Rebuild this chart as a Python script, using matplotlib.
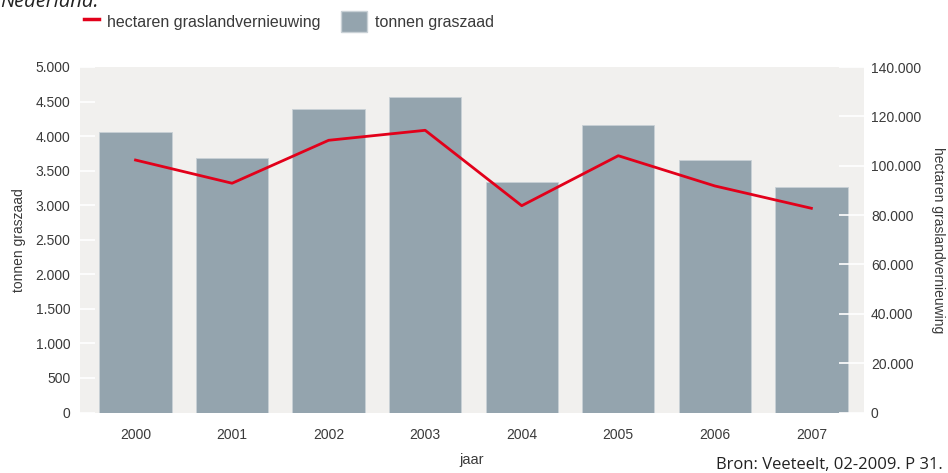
import numpy as np
import matplotlib
matplotlib.use("Agg")
import matplotlib.pyplot as plt
from matplotlib.lines import Line2D
from matplotlib.patches import Patch

# data
jaren = ["2000", "2001", "2002", "2003", "2004", "2005", "2006", "2007"]
tonnen_graszaad = [4060, 3685, 4390, 4570, 3330, 4155, 3655, 3270]
hectaren_vernieuwing = [102300, 92900, 110300, 114350, 83800, 104050, 91800, 82750]

left_ticks = [0, 500, 1000, 1500, 2000, 2500, 3000, 3500, 4000, 4500, 5000]
right_ticks = [0, 20000, 40000, 60000, 80000, 100000, 120000, 140000]

BAR_COLOR = "#94a4ae"
LINE_COLOR = "#e2001a"
BG_COLOR = "#f1f0ee"
TEXT_COLOR = "#3a3a3a"

plt.rcParams["font.family"] = ["Liberation Sans Narrow", "Liberation Sans", "DejaVu Sans"]


def dotted(v):
    # Dutch thousands separator
    return f"{int(v):,}".replace(",", ".")


fig = plt.figure(figsize=(9.48, 4.73), dpi=100)
ax = fig.add_axes([80 / 948, 1 - 412.5 / 473, 784 / 948, 345.5 / 473])
ax.set_facecolor(BG_COLOR)

x = np.arange(len(jaren))
ax.bar(x, tonnen_graszaad, width=0.75, color=BAR_COLOR, edgecolor="#c9d1d6",
       linewidth=0.6, zorder=2)
ax.set_xlim(-0.575, len(jaren) - 1 + 0.545)
ax.set_ylim(0, 5000)
ax.set_xticks(x)
ax.set_xticklabels(jaren)
ax.set_yticks(left_ticks)
ax.set_yticklabels([dotted(v) for v in left_ticks])
ax.tick_params(axis="x", length=0, pad=11, labelsize=10, labelcolor=TEXT_COLOR)
ax.tick_params(axis="y", direction="in", length=11, width=1.2, color="white",
               pad=7, labelsize=10, labelcolor=TEXT_COLOR)
for s in ax.spines.values():
    s.set_visible(False)
ax.set_ylabel("tonnen graszaad", fontsize=10, color=TEXT_COLOR, labelpad=7)
ax.set_xlabel("jaar", fontsize=10.5, color=TEXT_COLOR, labelpad=8)

ax2 = ax.twinx()
ax2.plot(x, hectaren_vernieuwing, color=LINE_COLOR, linewidth=2, zorder=3)
ax2.set_ylim(0, 140000)
ax2.set_yticks(right_ticks)
ax2.set_yticklabels([dotted(v) for v in right_ticks])
ax2.tick_params(axis="y", direction="in", length=18, width=1.2, color="white",
                pad=5, labelsize=10, labelcolor=TEXT_COLOR)
for s in ax2.spines.values():
    s.set_visible(False)
ax2.set_ylabel("hectaren graslandvernieuwing", rotation=270, fontsize=10,
               color=TEXT_COLOR, labelpad=17)

# two separate legend boxes so the line stays short and the patch square
leg_line = fig.legend([Line2D([], [], color=LINE_COLOR, linewidth=2.5)],
                      ["hectaren graslandvernieuwing"],
                      loc="upper left", bbox_to_anchor=(70 / 948, 1 + 3 / 473),
                      frameon=False, fontsize=11.5, handlelength=0.9,
                      handleheight=1.6, handletextpad=0.5, labelcolor=TEXT_COLOR)
fig.legend([Patch(facecolor=BAR_COLOR, edgecolor="#c9d1d6")], ["tonnen graszaad"],
           loc="upper left", bbox_to_anchor=(327 / 948, 1 + 3 / 473),
           frameon=False, fontsize=11.5, handlelength=1.6, handleheight=1.6,
           handletextpad=0.5, labelcolor=TEXT_COLOR)

fig.text(0.0, 1 - 7 / 473, "Nederland.", fontsize=14.5, style="italic",
         family=["Open Sans", "DejaVu Sans"], color="#222222", va="baseline")
fig.text(943 / 948, 1 - 469 / 473, "Bron: Veeteelt, 02-2009. P 31.", fontsize=12,
         family=["Open Sans", "DejaVu Sans"], color="#222222", ha="right",
         va="baseline")

fig.savefig("out.png", dpi=100)
